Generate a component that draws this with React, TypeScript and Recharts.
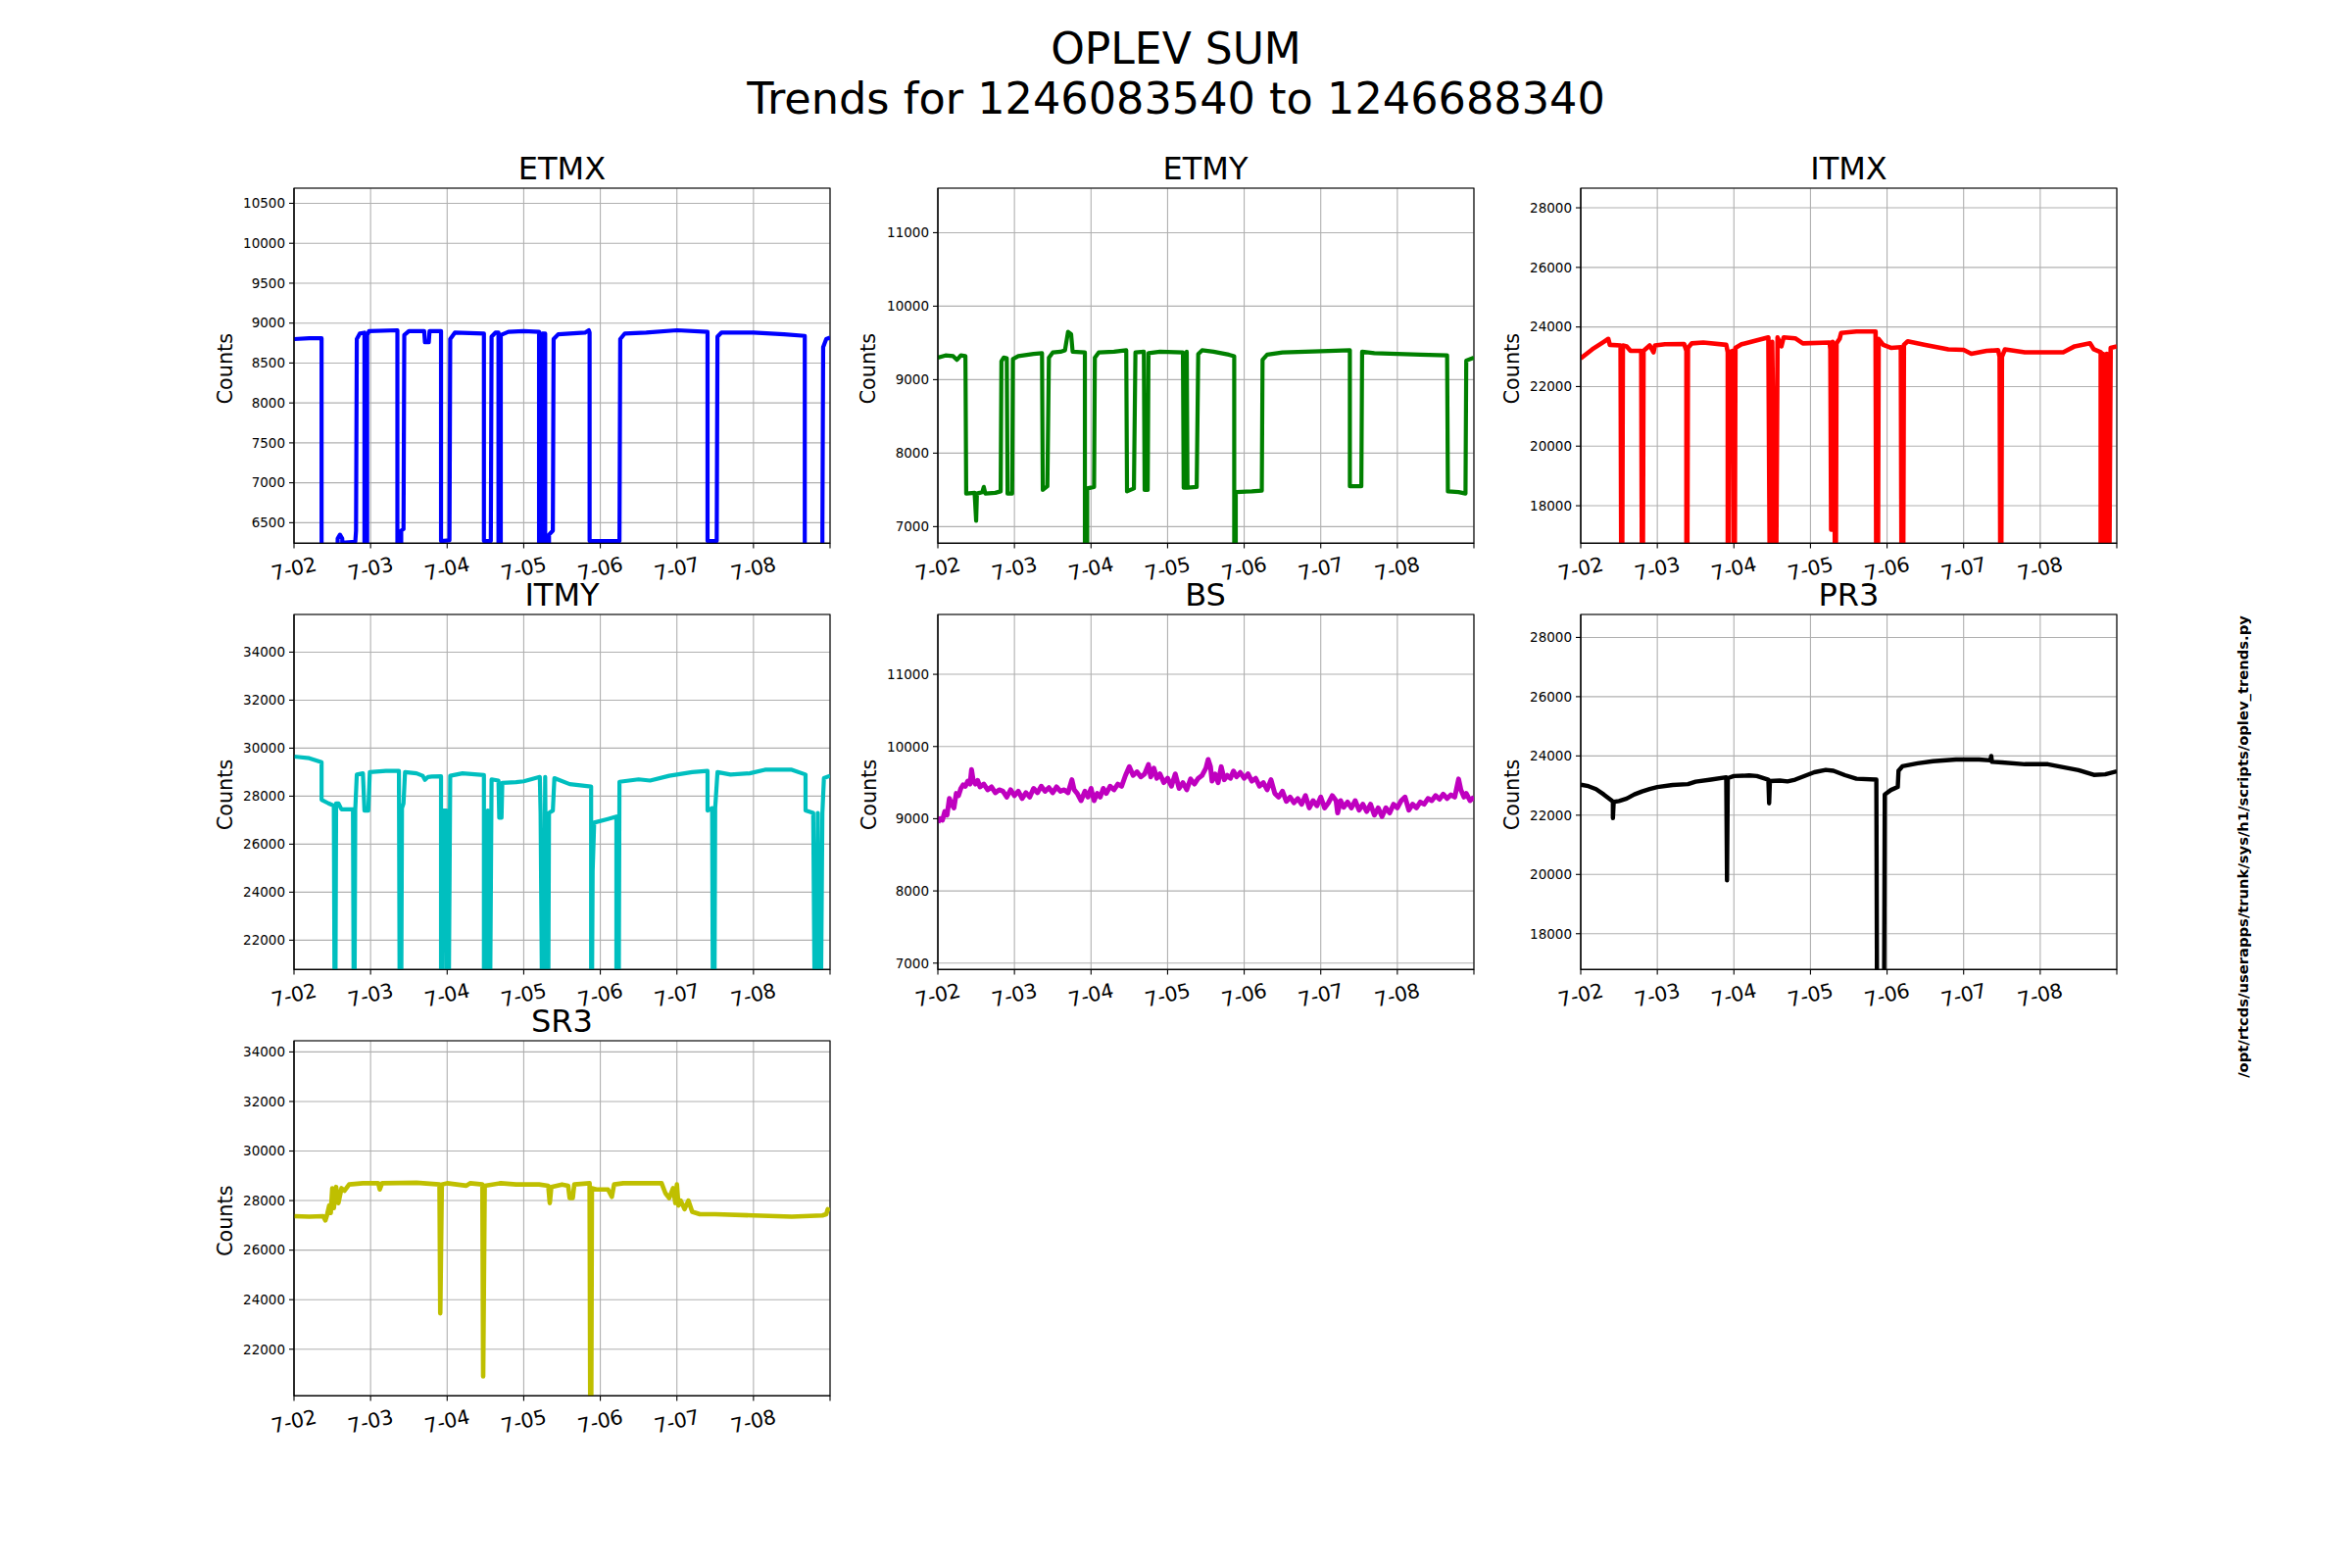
import React from "react";
import { LineChart, Line, XAxis, YAxis, CartesianGrid, ReferenceArea } from "recharts";

// time in days since 7-02 00:00, value in counts
const DAY_LABELS = ["7-02", "7-03", "7-04", "7-05", "7-06", "7-07", "7-08"];
const DAY_TICKS = [0, 1, 2, 3, 4, 5, 6, 7];

const ETMX_SUM = [
  [0, 8800], [0.2, 8810], [0.36, 8810], [0.36, 5000], [0.57, 5000], [0.57, 6300], [0.6, 6350], [0.63, 6300],
  [0.63, 6250], [0.8, 6260], [0.81, 6400], [0.82, 8800], [0.86, 8870], [0.92, 8880], [0.92, 5000], [0.955, 5000],
  [0.955, 8850], [0.98, 8900], [1.35, 8910], [1.35, 5000], [1.4, 5000], [1.4, 6400], [1.43, 6420], [1.44, 8850],
  [1.5, 8900], [1.7, 8900], [1.71, 8760], [1.76, 8760], [1.77, 8900], [1.92, 8900], [1.92, 6270], [2.03, 6280],
  [2.04, 8800], [2.1, 8880], [2.48, 8870], [2.48, 6270], [2.57, 6270], [2.58, 8830], [2.63, 8880], [2.67, 8880],
  [2.67, 5000], [2.7, 5000], [2.7, 8850], [2.8, 8890], [3.0, 8900], [3.2, 8890], [3.2, 5000], [3.24, 5000],
  [3.24, 8870], [3.28, 8870], [3.28, 5000], [3.33, 5000], [3.33, 6350], [3.38, 6400], [3.39, 8800], [3.45, 8860],
  [3.8, 8880], [3.85, 8910], [3.86, 8880], [3.86, 6270], [4.25, 6270], [4.26, 8800], [4.32, 8870], [4.6, 8880],
  [5.0, 8910], [5.4, 8890], [5.4, 6270], [5.52, 6270], [5.53, 8830], [5.58, 8880], [6.0, 8880], [6.4, 8860],
  [6.67, 8840], [6.67, 5000], [6.9, 5000], [6.9, 6400], [6.91, 8700], [6.95, 8800], [7.0, 8820],
];

const ETMY_SUM = [
  [0, 9300], [0.1, 9330], [0.2, 9320], [0.25, 9270], [0.3, 9330], [0.36, 9320], [0.37, 7450], [0.48, 7460],
  [0.5, 7080], [0.51, 7450], [0.58, 7470], [0.6, 7540], [0.62, 7450], [0.75, 7460], [0.82, 7480], [0.83, 9250],
  [0.86, 9300], [0.9, 9290], [0.91, 7450], [0.97, 7450], [0.98, 9280], [1.05, 9320], [1.25, 9350], [1.36, 9360],
  [1.37, 7500], [1.43, 7550], [1.45, 9300], [1.5, 9370], [1.6, 9380], [1.66, 9400], [1.7, 9650], [1.74, 9620],
  [1.76, 9380], [1.92, 9370], [1.92, 6000], [1.95, 6000], [1.95, 7520], [2.04, 7540], [2.05, 9300], [2.1, 9370],
  [2.3, 9380], [2.46, 9400], [2.47, 7480], [2.56, 7520], [2.58, 9370], [2.69, 9380], [2.7, 7500], [2.74, 7500],
  [2.75, 9360], [2.9, 9380], [3.2, 9370], [3.21, 7530], [3.24, 7530], [3.25, 9380], [3.26, 7530], [3.38, 7540],
  [3.4, 9350], [3.45, 9400], [3.6, 9380], [3.8, 9340], [3.87, 9320], [3.87, 6000], [3.89, 6000], [3.89, 7470],
  [4.1, 7480], [4.23, 7490], [4.24, 9270], [4.3, 9340], [4.5, 9370], [4.8, 9380], [5.1, 9390], [5.38, 9400],
  [5.38, 7550], [5.53, 7550], [5.54, 9380], [5.7, 9360], [6.0, 9350], [6.3, 9340], [6.65, 9330], [6.66, 7480],
  [6.8, 7470], [6.89, 7450], [6.9, 9260], [7.0, 9300],
];

const ITMX_SUM = [
  [0, 22950], [0.15, 23250], [0.3, 23500], [0.36, 23600], [0.38, 23400], [0.52, 23380], [0.53, 15000], [0.54, 15000],
  [0.55, 23380], [0.6, 23350], [0.65, 23200], [0.79, 23200], [0.8, 15000], [0.81, 15000], [0.82, 23200], [0.9, 23380],
  [0.95, 23150], [0.97, 23380], [1.1, 23420], [1.35, 23430], [1.38, 23200], [1.38, 15000], [1.39, 15000], [1.4, 23300],
  [1.45, 23450], [1.6, 23480], [1.9, 23400], [1.92, 23150], [1.92, 15000], [1.93, 15000], [1.94, 23150], [1.99, 23200],
  [2.0, 15000], [2.01, 15000], [2.02, 23300], [2.1, 23420], [2.3, 23550], [2.45, 23650], [2.47, 15000], [2.48, 15000],
  [2.5, 23500], [2.54, 15000], [2.55, 15000], [2.57, 23650], [2.62, 23350], [2.65, 23650], [2.8, 23620], [2.9, 23450],
  [3.25, 23480], [3.26, 23250], [3.27, 17200], [3.28, 17300], [3.29, 23500], [3.31, 23300], [3.32, 15000], [3.33, 15000],
  [3.34, 23450], [3.38, 23600], [3.4, 23800], [3.6, 23850], [3.85, 23850], [3.86, 15000], [3.88, 15000], [3.89, 23600],
  [3.95, 23400], [4.05, 23300], [4.18, 23320], [4.19, 15000], [4.21, 15000], [4.22, 23400], [4.27, 23520], [4.5, 23400],
  [4.8, 23250], [5.0, 23230], [5.1, 23100], [5.3, 23200], [5.45, 23220], [5.47, 23000], [5.48, 15000], [5.49, 15000],
  [5.5, 23000], [5.54, 23250], [5.8, 23150], [6.3, 23150], [6.45, 23350], [6.65, 23450], [6.7, 23250], [6.79, 23150],
  [6.79, 15000], [6.81, 15000], [6.82, 23100], [6.84, 15000], [6.86, 15000], [6.87, 23100], [6.89, 15000], [6.9, 15000],
  [6.92, 23300], [7.0, 23350],
];

const ITMY_SUM = [
  [0, 29650], [0.2, 29580], [0.36, 29420], [0.36, 27850], [0.45, 27700], [0.52, 27600], [0.53, 19000], [0.54, 19000],
  [0.55, 27700], [0.58, 27700], [0.62, 27450], [0.77, 27450], [0.78, 19000], [0.79, 19000], [0.8, 27450], [0.82, 28900],
  [0.9, 28950], [0.92, 27400], [0.97, 27400], [0.99, 29000], [1.2, 29050], [1.37, 29050], [1.38, 19000], [1.4, 19000],
  [1.41, 27500], [1.43, 27700], [1.45, 29000], [1.6, 28950], [1.68, 28850], [1.71, 28680], [1.75, 28800], [1.8, 28820],
  [1.92, 28830], [1.92, 19000], [1.94, 19000], [1.95, 27400], [1.99, 27400], [2.0, 19000], [2.02, 19000], [2.04, 28850],
  [2.2, 28950], [2.48, 28880], [2.48, 19000], [2.5, 19000], [2.51, 27300], [2.53, 27400], [2.54, 19000], [2.56, 19000],
  [2.58, 28700], [2.67, 28650], [2.68, 27100], [2.71, 27100], [2.72, 28550], [2.9, 28580], [3.0, 28620], [3.21, 28800],
  [3.22, 27300], [3.24, 19000], [3.26, 19000], [3.28, 28800], [3.3, 19000], [3.32, 19000], [3.33, 27300], [3.38, 27400],
  [3.4, 28750], [3.6, 28500], [3.88, 28400], [3.88, 19000], [3.89, 19000], [3.9, 24900], [3.92, 26900], [4.1, 27050],
  [4.21, 27150], [4.21, 19000], [4.24, 19000], [4.25, 28600], [4.5, 28700], [4.65, 28650], [4.9, 28850], [5.2, 29000],
  [5.4, 29050], [5.4, 27400], [5.46, 27500], [5.47, 19000], [5.49, 19000], [5.5, 27500], [5.53, 29000], [5.7, 28900],
  [5.95, 28950], [6.15, 29100], [6.5, 29100], [6.68, 28900], [6.68, 27400], [6.78, 27300], [6.8, 19000], [6.82, 19000],
  [6.84, 27300], [6.86, 19000], [6.88, 19000], [6.9, 27300], [6.92, 28750], [7.0, 28850],
];

const BS_SUM = [
  [0, 8950], [0.03, 9000], [0.06, 8980], [0.09, 9100], [0.12, 9050], [0.15, 9280], [0.18, 9200], [0.21, 9150],
  [0.24, 9350], [0.27, 9320], [0.3, 9420], [0.33, 9470], [0.36, 9450], [0.39, 9520], [0.42, 9480], [0.44, 9680],
  [0.46, 9540], [0.49, 9480], [0.52, 9530], [0.55, 9440], [0.6, 9480], [0.65, 9400], [0.7, 9440], [0.75, 9360],
  [0.8, 9400], [0.85, 9380], [0.9, 9300], [0.95, 9400], [1.0, 9320], [1.05, 9380], [1.1, 9280], [1.15, 9360],
  [1.2, 9300], [1.25, 9420], [1.3, 9360], [1.35, 9450], [1.4, 9380], [1.45, 9430], [1.5, 9360], [1.55, 9440],
  [1.6, 9380], [1.65, 9400], [1.7, 9360], [1.75, 9540], [1.78, 9400], [1.82, 9350], [1.87, 9250], [1.92, 9380],
  [1.96, 9300], [2.0, 9420], [2.04, 9250], [2.08, 9350], [2.12, 9300], [2.16, 9420], [2.2, 9350], [2.25, 9450],
  [2.3, 9400], [2.35, 9480], [2.4, 9450], [2.45, 9600], [2.5, 9720], [2.55, 9600], [2.6, 9650], [2.65, 9580],
  [2.7, 9620], [2.75, 9750], [2.78, 9580], [2.82, 9700], [2.86, 9560], [2.9, 9620], [2.95, 9500], [3.0, 9560],
  [3.05, 9450], [3.1, 9620], [3.15, 9420], [3.2, 9500], [3.25, 9400], [3.3, 9550], [3.35, 9480], [3.4, 9560],
  [3.45, 9600], [3.5, 9700], [3.53, 9820], [3.56, 9720], [3.58, 9520], [3.62, 9620], [3.66, 9500], [3.7, 9720],
  [3.74, 9540], [3.78, 9600], [3.82, 9560], [3.86, 9660], [3.9, 9580], [3.95, 9640], [4.0, 9560], [4.05, 9620],
  [4.1, 9520], [4.15, 9560], [4.2, 9450], [4.25, 9500], [4.3, 9400], [4.35, 9540], [4.4, 9350], [4.45, 9300],
  [4.5, 9380], [4.55, 9240], [4.6, 9300], [4.65, 9220], [4.7, 9280], [4.75, 9200], [4.8, 9320], [4.85, 9150],
  [4.9, 9250], [4.95, 9180], [5.0, 9300], [5.05, 9150], [5.1, 9220], [5.15, 9320], [5.2, 9250], [5.22, 9080],
  [5.26, 9250], [5.3, 9160], [5.35, 9230], [5.4, 9150], [5.45, 9250], [5.5, 9120], [5.55, 9200], [5.6, 9100],
  [5.65, 9200], [5.7, 9050], [5.75, 9150], [5.8, 9030], [5.85, 9150], [5.9, 9080], [5.95, 9200], [6.0, 9150],
  [6.05, 9250], [6.1, 9300], [6.15, 9120], [6.2, 9200], [6.25, 9150], [6.3, 9230], [6.35, 9200], [6.4, 9280],
  [6.45, 9250], [6.5, 9320], [6.55, 9270], [6.6, 9340], [6.65, 9280], [6.7, 9330], [6.75, 9300], [6.8, 9550],
  [6.83, 9400], [6.87, 9300], [6.9, 9350], [6.95, 9250], [7.0, 9300],
];

const PR3_SUM = [
  [0, 23030], [0.1, 22980], [0.2, 22880], [0.3, 22700], [0.41, 22480], [0.42, 22450], [0.42, 21900], [0.43, 22450],
  [0.5, 22480], [0.6, 22560], [0.7, 22700], [0.8, 22800], [0.9, 22880], [1.0, 22950], [1.2, 23020], [1.4, 23050],
  [1.5, 23130], [1.7, 23200], [1.9, 23280], [1.91, 19800], [1.92, 23250], [2.0, 23320], [2.2, 23340], [2.3, 23320],
  [2.45, 23200], [2.46, 22400], [2.47, 23150], [2.6, 23170], [2.7, 23140], [2.8, 23200], [2.9, 23300], [3.05, 23450],
  [3.2, 23530], [3.3, 23500], [3.45, 23350], [3.6, 23230], [3.86, 23200], [3.87, 15000], [3.96, 15000], [3.97, 22700],
  [4.05, 22850], [4.14, 22950], [4.15, 23500], [4.2, 23650], [4.4, 23750], [4.6, 23820], [4.9, 23880], [5.2, 23880],
  [5.35, 23850], [5.36, 24000], [5.37, 23800], [5.5, 23780], [5.8, 23720], [6.1, 23720], [6.3, 23620], [6.5, 23520],
  [6.7, 23360], [6.85, 23380], [7.0, 23480],
];

const SR3_SUM = [
  [0, 27370], [0.2, 27350], [0.38, 27370], [0.41, 27200], [0.43, 27400], [0.46, 27800], [0.48, 27500], [0.5, 28500],
  [0.52, 27700], [0.55, 28550], [0.58, 27900], [0.62, 28500], [0.66, 28400], [0.72, 28650], [0.9, 28700], [1.1, 28700],
  [1.12, 28450], [1.15, 28700], [1.6, 28720], [1.9, 28650], [1.91, 23450], [1.93, 28650], [2.0, 28700], [2.25, 28600],
  [2.3, 28700], [2.46, 28650], [2.47, 20900], [2.49, 28600], [2.7, 28700], [2.9, 28650], [3.2, 28650], [3.32, 28600],
  [3.34, 27900], [3.36, 28550], [3.5, 28650], [3.58, 28600], [3.6, 28100], [3.64, 28100], [3.66, 28650], [3.86, 28700],
  [3.87, 18000], [3.88, 18000], [3.89, 28500], [3.95, 28450], [4.1, 28450], [4.15, 28150], [4.18, 28650], [4.3, 28700],
  [4.6, 28700], [4.8, 28700], [4.85, 28300], [4.9, 28100], [4.95, 28500], [4.98, 27900], [5.0, 28650], [5.02, 27800],
  [5.05, 28000], [5.1, 27650], [5.15, 28000], [5.2, 27550], [5.3, 27450], [5.5, 27450], [6.0, 27400], [6.5, 27350],
  [6.9, 27400], [6.95, 27450], [6.97, 27650], [7.0, 27600],
];

// figure layout (matplotlib 3x3 subplot grid on a 2400x1600 canvas)
const PW = 547;
const PH = 362.4;
const COL_LEFT = [300, 956.5, 1613];
const ROW_TOP = [192, 626.8, 1061.6];
const ML = 110;
const MR = 12;
const MT = 10;
const MB = 70;

const PANELS = [
  { name: "ETMX", series: ETMX_SUM, color: "#0000ff", domain: [6242, 10690], ticks: [6500, 7000, 7500, 8000, 8500, 9000, 9500, 10000, 10500], col: 0, row: 0, lw: 4.2 },
  { name: "ETMY", series: ETMY_SUM, color: "#008000", domain: [6773, 11606], ticks: [7000, 8000, 9000, 10000, 11000], col: 1, row: 0, lw: 4.2 },
  { name: "ITMX", series: ITMX_SUM, color: "#ff0000", domain: [16739, 28659], ticks: [18000, 20000, 22000, 24000, 26000, 28000], col: 2, row: 0, lw: 4.6 },
  { name: "ITMY", series: ITMY_SUM, color: "#00bfbf", domain: [20774, 35570], ticks: [22000, 24000, 26000, 28000, 30000, 32000, 34000], col: 0, row: 1, lw: 4.2 },
  { name: "BS", series: BS_SUM, color: "#bf00bf", domain: [6910, 11829], ticks: [7000, 8000, 9000, 10000, 11000], col: 1, row: 1, lw: 5 },
  { name: "PR3", series: PR3_SUM, color: "#000000", domain: [16788, 28775], ticks: [18000, 20000, 22000, 24000, 26000, 28000], col: 2, row: 1, lw: 4.4 },
  { name: "SR3", series: SR3_SUM, color: "#bfbf00", domain: [20115, 34451], ticks: [22000, 24000, 26000, 28000, 30000, 32000, 34000], col: 0, row: 2, lw: 4.6 },
];

function DayTick(props: any) {
  const { x, y, payload } = props;
  const label = DAY_LABELS[payload.value];
  if (!label) return <g />;
  return (
    <g transform={`translate(${x},${y + 19})`}>
      <text transform="rotate(-13)" textAnchor="middle" dominantBaseline="central" fontSize={20.5} fill="#000">
        {label}
      </text>
    </g>
  );
}

function Panel({ p }: { p: (typeof PANELS)[number] }) {
  const left = COL_LEFT[p.col];
  const top = ROW_TOP[p.row];
  const data = p.series.map(([t, v]) => ({ t, v }));
  return (
    <div style={{ position: "absolute", left: left - ML, top: top - MT }}>
      <LineChart width={PW + ML + MR} height={PH + MT + MB} data={data} margin={{ top: MT, right: MR, bottom: 0, left: 0 }}>
        <CartesianGrid stroke="#b0b0b0" strokeWidth={1.1} />
        <XAxis
          dataKey="t"
          type="number"
          domain={[0, 7]}
          ticks={DAY_TICKS}
          interval={0}
          allowDataOverflow
          height={MB}
          tickSize={5}
          tick={<DayTick />}
          axisLine={{ stroke: "#000", strokeWidth: 1.1 }}
          tickLine={{ stroke: "#000", strokeWidth: 1.1 }}
        />
        <YAxis
          type="number"
          domain={p.domain}
          ticks={p.ticks}
          interval={0}
          allowDataOverflow
          width={ML}
          tickSize={5}
          tickMargin={4}
          tick={{ fontSize: 13.5, fill: "#000" }}
          axisLine={{ stroke: "#000", strokeWidth: 1.1 }}
          tickLine={{ stroke: "#000", strokeWidth: 1.1 }}
        />
        <Line
          type="linear"
          dataKey="v"
          stroke={p.color}
          strokeWidth={p.lw}
          strokeLinejoin="round"
          dot={false}
          activeDot={false}
          isAnimationActive={false}
        />
        <ReferenceArea x1={0} x2={7} y1={p.domain[0]} y2={p.domain[1]} fill="none" stroke="#000" strokeWidth={1.1} ifOverflow="visible" />
      </LineChart>
    </div>
  );
}

export default function App() {
  return (
    <div
      style={{
        position: "absolute",
        left: 0,
        top: 0,
        width: 2400,
        height: 1600,
        background: "#fff",
        fontFamily: '"DejaVu Sans", sans-serif',
        overflow: "hidden",
      }}
    >
      {PANELS.map((p) => (
        <Panel key={p.name} p={p} />
      ))}
      <svg width={2400} height={1600} style={{ position: "absolute", left: 0, top: 0, pointerEvents: "none" }} fontFamily='"DejaVu Sans", sans-serif'>
        <text x={1200} y={65} textAnchor="middle" fontSize={44} fill="#000">OPLEV SUM</text>
        <text x={1200} y={116} textAnchor="middle" fontSize={44.6} fill="#000">Trends for 1246083540 to 1246688340</text>
        {PANELS.map((p) => {
          const cx = COL_LEFT[p.col] + PW / 2;
          const top = ROW_TOP[p.row];
          const cy = top + PH / 2 + 3;
          const lx = COL_LEFT[p.col] - 70;
          return (
            <g key={p.name}>
              <text x={cx} y={top - 9} textAnchor="middle" fontSize={32} fill="#000">{p.name}</text>
              <text x={lx} y={cy} transform={`rotate(-90 ${lx} ${cy})`} textAnchor="middle" dominantBaseline="central" fontSize={20.8} fill="#000">
                Counts
              </text>
            </g>
          );
        })}
        <text x={2288} y={864} transform="rotate(-90 2288 864)" textAnchor="middle" dominantBaseline="central" fontSize={14.75} fontWeight="bold" fill="#000">
          /opt/rtcds/userapps/trunk/sys/h1/scripts/oplev_trends.py
        </text>
      </svg>
    </div>
  );
}
